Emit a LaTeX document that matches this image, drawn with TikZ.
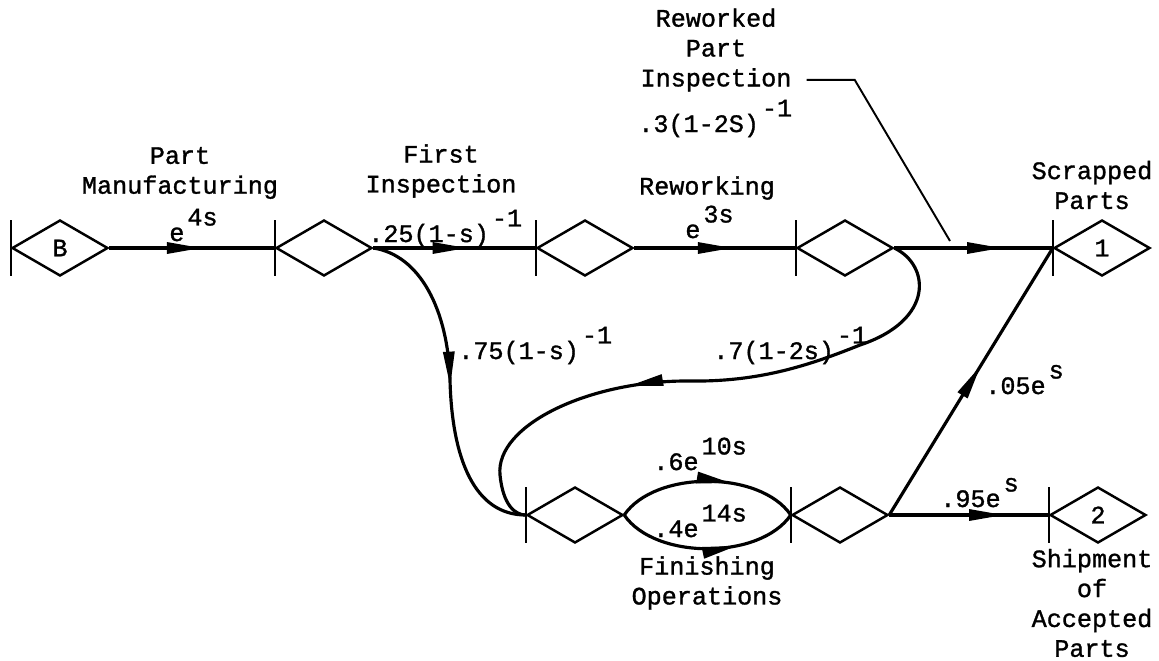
\documentclass[tikz,border=0pt]{standalone}
\usepackage{fontspec}
\newfontfamily\tw[FakeBold=1.2]{Liberation Mono}
\usetikzlibrary{arrows.meta,decorations.markings,shapes.geometric,calc}
\newcommand{\up}[1]{\kern0.12em\raisebox{0.62em}{#1}}
\begin{document}
\begin{tikzpicture}[x=0.02cm,y=-0.02cm,
  tw/.style={font=\tw\fontsize{14.3}{17}\selectfont, inner sep=0pt},
  lbl/.style={tw, align=center},
  mathlbl/.style={tw, anchor=base west},
  stage/.style={diamond, draw, line width=1.4pt, minimum width=1.92cm, minimum height=1.12cm, inner sep=0pt, tw},
  bar/.style={line width=1.4pt},
  flow/.style={line width=1.8pt},
  mid/.style={postaction={decorate}, decoration={markings, mark=at position #1 with {\arrow{Triangle[length=0.7cm,width=0.22cm]}}}},
  leader/.style={line width=1.1pt}]
\useasboundingbox (0,0) rectangle (1159,660);

% stages
\node[stage] (B)  at (60,248)   {B};
\node[stage] (FI) at (324,248)  {};
\node[stage] (RW) at (585,248)  {};
\node[stage] (RI) at (845,248)  {};
\node[stage] (S1) at (1102,248) {1};
\node[stage] (F1) at (575,515)  {};
\node[stage] (F2) at (840,515)  {};
\node[stage] (S2) at (1098,515) {2};
\foreach \n in {B,FI,RW,RI,S1,F1,F2,S2}
  \draw[bar] ($(\n.west)+(0,-28)$) -- ($(\n.west)+(0,28)$);

% flows
\draw[flow, mid=0.56] (B.east) -- (FI.west);
\draw[flow, mid=0.58] (FI.east) -- (RW.west);
\draw[flow, mid=0.61] (RW.east) -- (RI.west);
\draw[flow, mid=0.68] (RI.east) -- (S1.west);
\draw[flow, mid=0.51] (FI.east) .. controls (420,255) and (448,310) .. (450,380)
   .. controls (452,460) and (475,515) .. (F1.west);
\draw[flow, mid=0.63] (RI.east) .. controls (930,265) and (935,320) .. (860,345)
   .. controls (810,365) and (760,382) .. (690,381)
   .. controls (590,380) and (495,425) .. (500,475)
   .. controls (503,505) and (515,515) .. (F1.west);
\draw[flow, mid=0.63] (F1.east) .. controls (655,470) and (760,470) .. (F2.west);
\draw[flow, mid=0.66] (F1.east) .. controls (655,560) and (760,560) .. (F2.west);
\draw[flow, mid=0.56] (F2.east) -- (S1.west);
\draw[flow, mid=0.72] (F2.east) -- (S2.west);

% stage labels
\node[lbl] (tPM)  at (180,173)  {Part\\Manufacturing};
\node[lbl] (tFI)  at (441,171)  {First\\Inspection};
\node[lbl] (tRW)  at (707,188)  {Reworking};
\node[lbl] (tRPI) at (716,50)   {Reworked\\Part\\Inspection};
\node[lbl] (tSP)  at (1092,185) {Scrapped\\Parts};
\node[lbl] (tFO)  at (707,583)  {Finishing\\Operations};
\node[lbl] (tSA)  at (1092,603) {Shipment\\of\\Accepted\\Parts};

% transmittances
\node[mathlbl] (l1)  at (169,241) {e\up{4s}};
\node[mathlbl] (l2)  at (368,242) {.25(1-s)\up{-1}};
\node[mathlbl] (l3)  at (685,238) {e\up{3s}};
\node[mathlbl] (l4)  at (638,132) {.3(1-2S)\up{-1}};
\node[mathlbl] (l5)  at (458,359) {.75(1-s)\up{-1}};
\node[mathlbl] (l6)  at (713,359) {.7(1-2s)\up{-1}};
\node[mathlbl] (l7)  at (653,470) {.6e\up{10s}};
\node[mathlbl] (l8)  at (653,537) {.4e\up{14s}};
\node[mathlbl] (l9)  at (985,394) {.05e\up{s}};
\node[mathlbl] (l10) at (940,507) {.95e\up{s}};

% leader
\coordinate (lk) at (950,241);
\draw[leader] ($(tRPI.south east)+(15,-12)$) -- ++(48,0) -- (lk);
\end{tikzpicture}
\end{document}
